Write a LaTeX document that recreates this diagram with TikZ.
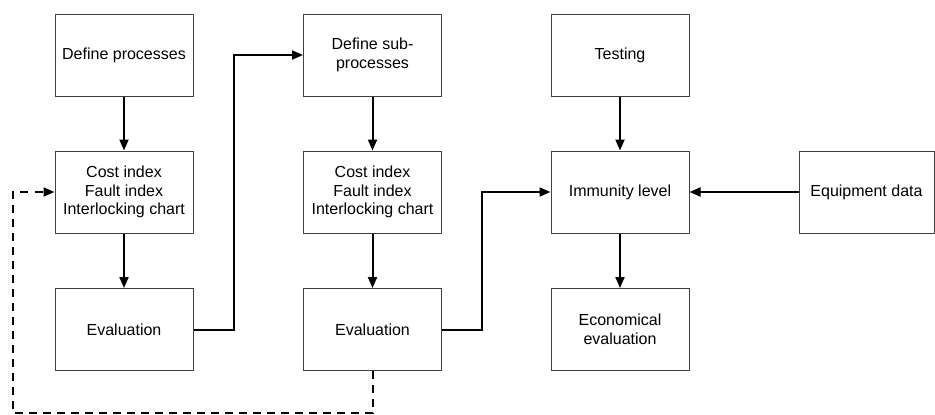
\documentclass[tikz,border=0pt]{standalone}
\usepackage{fontspec}
\setmainfont{Liberation Sans}
\usetikzlibrary{arrows.meta}
\begin{document}
\begin{tikzpicture}[x=1pt,y=-1pt,
  box/.style={draw=black!75, line width=1pt, rectangle, align=center,
    minimum width=138pt, minimum height=82pt, inner sep=2pt,
    font=\fontsize{16pt}{18.5pt}\selectfont},
  flow/.style={line width=2pt, -{Triangle[length=11pt,width=9pt]}},
  loopback/.style={flow, dash pattern=on 8pt off 6pt}]
  \useasboundingbox (0,0) rectangle (935,415);

  % first column: process level
  \node[box] (d1) at (124,55)    {Define processes};
  \node[box] (c1) at (124,192)   {Cost index\\Fault index\\Interlocking chart};
  \node[box] (e1) at (124,329.5) {Evaluation};

  % second column: sub-process level
  \node[box] (d2) at (372.5,55)    {Define sub-\\processes};
  \node[box] (c2) at (372.5,192)   {Cost index\\Fault index\\Interlocking chart};
  \node[box] (e2) at (372.5,329.5) {Evaluation};

  % third column: immunity
  \node[box] (t3) at (620,55)    {Testing};
  \node[box] (i3) at (620,192)   {Immunity level};
  \node[box] (e3) at (620,329.5) {Economical\\evaluation};

  % equipment input
  \node[box, minimum width=135pt] (eq) at (866.5,192) {Equipment data};

  % routing points
  \coordinate (j1) at (234,0);
  \coordinate (j2) at (482,0);
  \coordinate (lb) at (13,413);

  \draw[flow] (d1) -- (c1);
  \draw[flow] (c1) -- (e1);
  \draw[flow] (d2) -- (c2);
  \draw[flow] (c2) -- (e2);
  \draw[flow] (t3) -- (i3);
  \draw[flow] (i3) -- (e3);
  \draw[flow] (eq) -- (i3);

  \draw[flow] (e1.east) -- (e1.east -| j1) |- (d2.west);
  \draw[flow] (e2.east) -- (e2.east -| j2) |- (i3.west);

  \draw[loopback] (e2.south) |- (lb) |- (c1.west);
\end{tikzpicture}
\end{document}
